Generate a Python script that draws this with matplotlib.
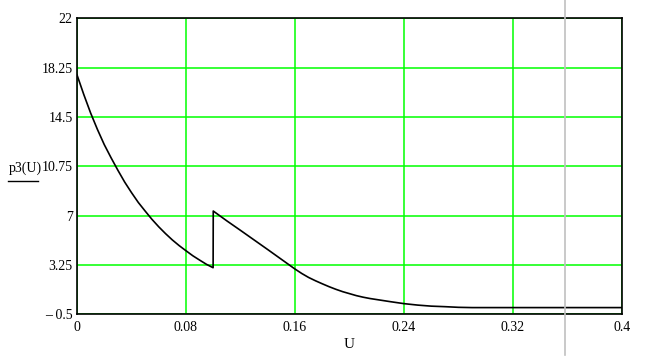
import matplotlib.pyplot as plt
from matplotlib.lines import Line2D
import numpy as np

# values
u_left = [0.0, 0.005, 0.01, 0.015, 0.02, 0.025, 0.03, 0.035, 0.04, 0.045,
          0.05, 0.055, 0.06, 0.065, 0.07, 0.075, 0.08, 0.085, 0.09, 0.095, 0.0999]
p_left = [17.7, 16.2, 14.8, 13.55, 12.4, 11.4, 10.45, 9.55, 8.75, 8.0,
          7.35, 6.72, 6.15, 5.63, 5.15, 4.72, 4.33, 3.95, 3.62, 3.3, 3.04]

u_right = [0.1, 0.11, 0.12, 0.13, 0.14, 0.15, 0.16, 0.165, 0.17, 0.175, 0.18,
           0.185, 0.19, 0.195, 0.20, 0.205, 0.21, 0.215, 0.22, 0.23, 0.24,
           0.25, 0.26, 0.27, 0.28, 0.29, 0.40]
p_right = [7.35, 6.6, 5.88, 5.15, 4.42, 3.68, 2.94, 2.6, 2.30, 2.05, 1.82,
           1.6, 1.40, 1.22, 1.07, 0.92, 0.80, 0.70, 0.62, 0.46, 0.31,
           0.20, 0.12, 0.08, 0.03, 0.01, 0.01]

x_ticks = [0, 0.08, 0.16, 0.24, 0.32, 0.4]
x_labels = ['0', '0.08', '0.16', '0.24', '0.32', '0.4']
y_ticks = [-0.5, 3.25, 7, 10.75, 14.5, 18.25, 22]
y_labels = ['\u2013 0.5', '3.25', '7', '10.75', '14.5', '18.25', '22']

u = np.array(u_left + u_right)
p3 = np.array(p_left + p_right)

plt.rcParams['font.family'] = ['Liberation Serif', 'DejaVu Serif']
plt.rcParams['font.size'] = 10

fig = plt.figure(figsize=(6.58, 3.56), dpi=100)
ax = fig.add_axes([77 / 658, 1 - 314.3 / 356, 545 / 658, 296 / 356])

ax.plot(u, p3, color='black', lw=1.2, zorder=3)

ax.set_xlim(0, 0.4)
ax.set_ylim(-0.5, 22)
ax.set_xticks(x_ticks)
ax.set_xticklabels(x_labels)
ax.set_yticks(y_ticks)
ax.set_yticklabels(y_labels)
ax.tick_params(length=0, pad=5, labelsize=10, colors='black')
ax.tick_params(axis='y', pad=3)

# green grid
ax.grid(True, color='#00ff00', lw=1.1)
ax.set_axisbelow(True)
for s in ax.spines.values():
    s.set_color('black')
    s.set_linewidth(1.2)
    s.set_zorder(4)

# axis titles
fig.text(349 / 658, 1 - 344 / 356, 'U', ha='center', va='center', fontsize=11)
fig.text(9 / 658, 1 - 168 / 356, 'p3(U)', ha='left', va='center', fontsize=10)
fig.add_artist(Line2D([8 / 658, 38 / 658], [1 - 180.5 / 356, 1 - 180.5 / 356],
                      color='black', lw=1))

# light grey vertical line across the window
fig.add_artist(Line2D([565.3 / 658, 565.3 / 658], [0.003, 1.0],
                      color='#c0c0c0', lw=1.2))

fig.savefig('out.png', dpi=100)
